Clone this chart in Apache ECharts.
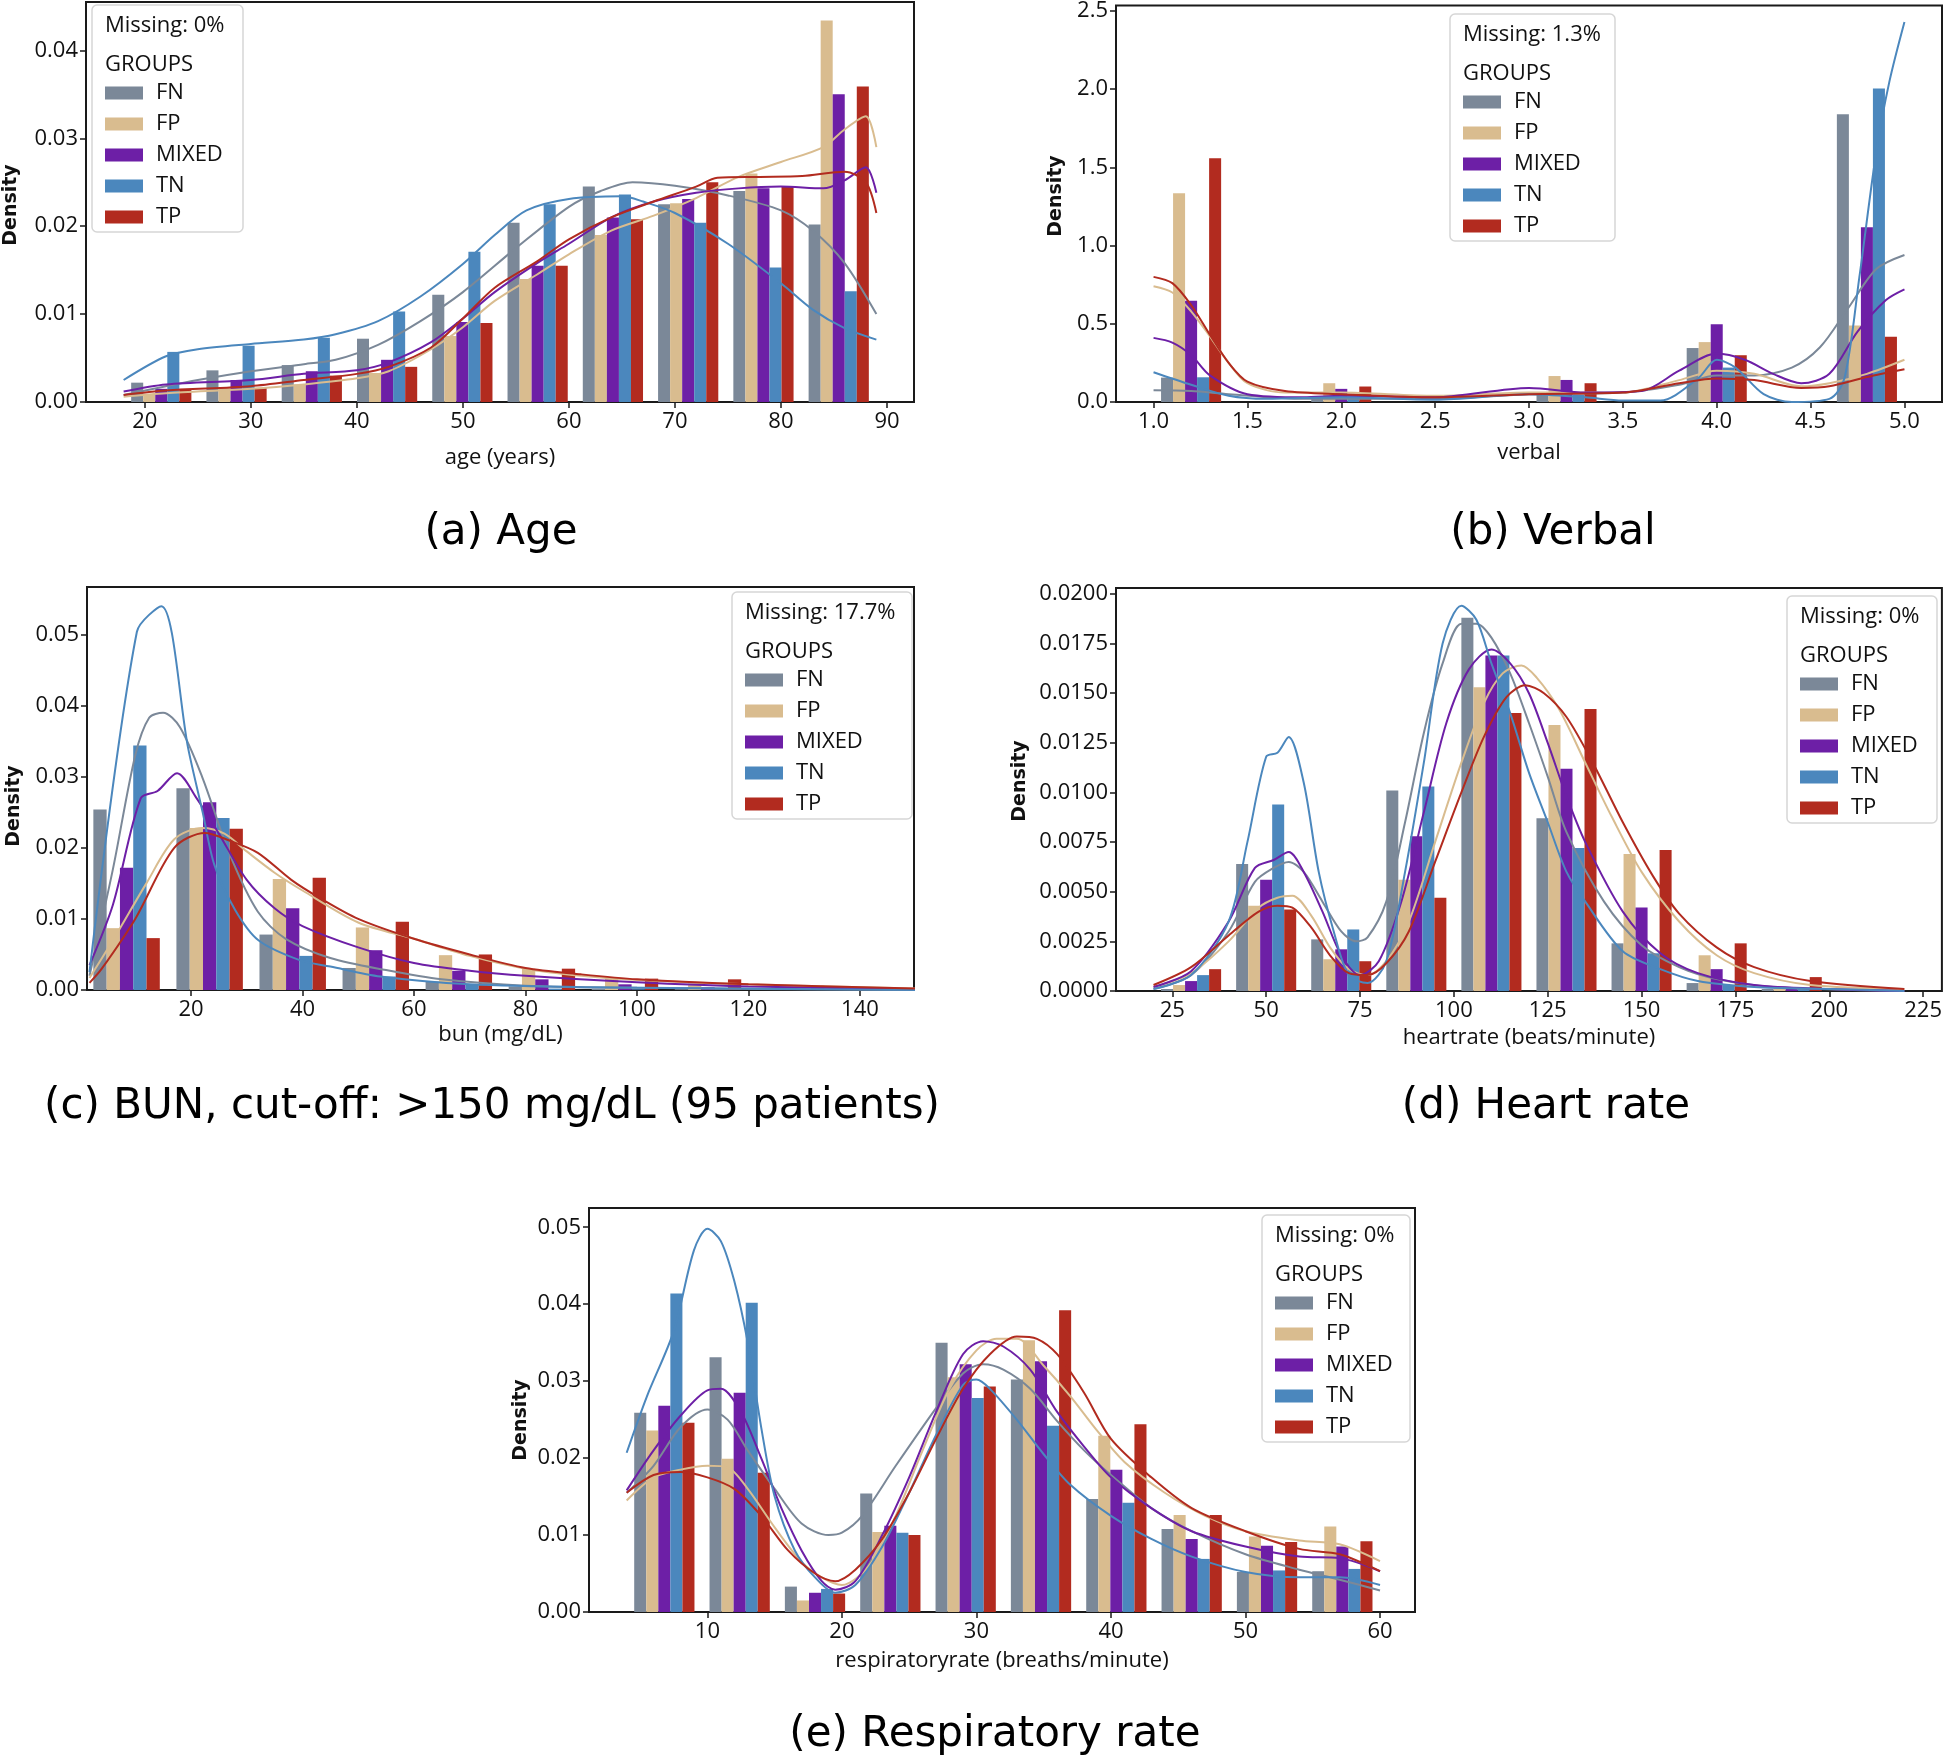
<!DOCTYPE html>
<html>
<head>
<meta charset="utf-8">
<script src="https://cdn.jsdelivr.net/npm/echarts@6/dist/echarts.min.js"></script>
<style>
body { margin: 0; background: #fff; }
#fig { width: 1945px; height: 1759px; }
</style>
</head>
<body>
<div id="fig"></div>
<script>
// ------------------------------------ data ------------------------------------
var groups = ['FN', 'FP', 'MIXED', 'TN', 'TP'];
var colors = ['#7b8898', '#d9bc8f', '#6d1fa6', '#4b87bd', '#b22b1f'];

// (a) age
var ageEdges = [18, 25.1, 32.2, 39.3, 46.4, 53.5, 60.6, 67.7, 74.8, 81.9, 89];
var ageFN = [0.0022, 0.0036, 0.0042, 0.0072, 0.0122, 0.0204, 0.0245, 0.0225, 0.0240, 0.0202];
var ageFP = [0.0009, 0.0017, 0.0020, 0.0033, 0.0075, 0.0140, 0.0190, 0.0226, 0.0260, 0.0434];
var ageMIXED = [0.0015, 0.0025, 0.0035, 0.0048, 0.0091, 0.0155, 0.0210, 0.0231, 0.0243, 0.0350];
var ageTN = [0.0057, 0.0064, 0.0073, 0.0103, 0.0171, 0.0225, 0.0236, 0.0204, 0.0153, 0.0126];
var ageTP = [0.0015, 0.0016, 0.0030, 0.0040, 0.0090, 0.0155, 0.0208, 0.0250, 0.0245, 0.0359];
var ageKdeFN = [[18, 0.0008], [22, 0.0018], [25, 0.0025], [30, 0.0035], [35, 0.0043], [38, 0.0048], [42, 0.0065], [46, 0.0092], [50, 0.0125], [55, 0.0175], [60, 0.0222], [63, 0.0240], [66, 0.0250], [70, 0.0246], [75, 0.0235], [80, 0.0218], [83, 0.0195], [86, 0.0158], [89, 0.0100]];
var ageKdeFP = [[18, 0.0006], [22, 0.0010], [30, 0.0015], [35, 0.0020], [40, 0.0027], [43, 0.0035], [47, 0.0060], [50, 0.0085], [53, 0.0115], [57, 0.0145], [60, 0.0168], [64, 0.0195], [68, 0.0212], [72, 0.0232], [76, 0.0256], [80, 0.0273], [84, 0.0290], [86, 0.0310], [88, 0.0325], [89, 0.0290]];
var ageKdeMIXED = [[18, 0.0012], [22, 0.0020], [30, 0.0025], [35, 0.0032], [40, 0.0036], [43, 0.0045], [47, 0.0068], [50, 0.0095], [53, 0.0125], [57, 0.0158], [60, 0.0180], [64, 0.0210], [68, 0.0228], [72, 0.0238], [76, 0.0243], [80, 0.0245], [84, 0.0243], [86, 0.0252], [88, 0.0267], [89, 0.0238]];
var ageKdeTN = [[18, 0.0025], [22, 0.0052], [25, 0.0060], [30, 0.0066], [35, 0.0071], [38, 0.0077], [42, 0.0092], [46, 0.0120], [50, 0.0157], [53, 0.0190], [56, 0.0218], [60, 0.0231], [65, 0.0234], [67, 0.0228], [70, 0.0215], [75, 0.0180], [80, 0.0135], [83, 0.0105], [86, 0.0084], [89, 0.0071]];
var ageKdeTP = [[18, 0.0008], [22, 0.0013], [30, 0.0018], [35, 0.0025], [40, 0.0032], [43, 0.0040], [47, 0.0062], [50, 0.0095], [53, 0.0130], [57, 0.0160], [60, 0.0185], [64, 0.0210], [68, 0.0228], [72, 0.0245], [74, 0.0255], [78, 0.0256], [82, 0.0257], [86, 0.0262], [88, 0.0250], [89, 0.0215]];

// (b) verbal
var verbalEdges = [1.0, 1.4, 1.8, 2.2, 2.6, 3.0, 3.4, 3.8, 4.2, 4.6, 5.0];
var verbalFN = [0.156, 0, 0.025, 0, 0, 0.055, 0, 0.345, 0, 1.840];
var verbalFP = [1.335, 0, 0.120, 0, 0, 0.166, 0, 0.383, 0, 0.489];
var verbalMIXED = [0.647, 0, 0.084, 0, 0, 0.141, 0, 0.497, 0, 1.118];
var verbalTN = [0.158, 0, 0.035, 0, 0, 0.045, 0, 0.220, 0, 2.005];
var verbalTP = [1.558, 0, 0.099, 0, 0, 0.120, 0, 0.299, 0, 0.417];
var verbalKdeFN = [[1.0, 0.075], [1.2, 0.07], [1.4, 0.05], [1.8, 0.02], [2.5, 0.02], [3.0, 0.05], [3.5, 0.06], [3.8, 0.11], [4.0, 0.17], [4.2, 0.17], [4.4, 0.22], [4.55, 0.35], [4.7, 0.6], [4.85, 0.85], [5.0, 0.94]];
var verbalKdeFP = [[1.0, 0.74], [1.1, 0.70], [1.2, 0.58], [1.3, 0.42], [1.4, 0.25], [1.5, 0.12], [1.7, 0.06], [2.0, 0.06], [2.5, 0.04], [3.0, 0.06], [3.5, 0.06], [3.8, 0.14], [4.0, 0.20], [4.2, 0.18], [4.45, 0.10], [4.6, 0.12], [4.8, 0.18], [5.0, 0.27]];
var verbalKdeMIXED = [[1.0, 0.41], [1.1, 0.38], [1.2, 0.30], [1.3, 0.17], [1.5, 0.05], [1.8, 0.03], [2.0, 0.04], [2.5, 0.03], [3.0, 0.09], [3.3, 0.06], [3.6, 0.07], [3.8, 0.20], [4.0, 0.31], [4.15, 0.27], [4.3, 0.18], [4.45, 0.12], [4.6, 0.18], [4.75, 0.45], [4.9, 0.65], [5.0, 0.72]];
var verbalKdeTN = [[1.0, 0.19], [1.2, 0.11], [1.4, 0.04], [1.6, 0.02], [2.0, 0.03], [2.5, 0.015], [3.0, 0.05], [3.3, 0.03], [3.5, 0.01], [3.7, 0.01], [3.9, 0.15], [4.0, 0.27], [4.1, 0.22], [4.25, 0.05], [4.4, 0.0], [4.6, 0.02], [4.68, 0.15], [4.76, 0.8], [4.85, 1.6], [4.92, 2.05], [5.0, 2.43]];
var verbalKdeTP = [[1.0, 0.80], [1.1, 0.76], [1.2, 0.62], [1.3, 0.43], [1.4, 0.25], [1.5, 0.13], [1.7, 0.07], [2.0, 0.05], [2.5, 0.03], [3.0, 0.05], [3.5, 0.06], [3.8, 0.12], [4.0, 0.15], [4.2, 0.14], [4.45, 0.09], [4.6, 0.10], [4.8, 0.16], [5.0, 0.21]];

// (c) bun
var bunEdges = [1, 15.9, 30.8, 45.7, 60.6, 75.5, 90.4, 105.3, 120.2, 135.1, 150];
var bunFN = [0.0254, 0.0284, 0.0078, 0.0031, 0.0012, 0.0005, 0.0002, 0.0001, 0.0001, 0.0000];
var bunFP = [0.0087, 0.0228, 0.0156, 0.0088, 0.0049, 0.0030, 0.0016, 0.0009, 0.0004, 0.0003];
var bunMIXED = [0.0172, 0.0264, 0.0115, 0.0056, 0.0027, 0.0015, 0.0008, 0.0004, 0.0003, 0.0001];
var bunTN = [0.0344, 0.0242, 0.0048, 0.0019, 0.0007, 0.0002, 0.0001, 0.0001, 0.0000, 0.0000];
var bunTP = [0.0073, 0.0227, 0.0158, 0.0096, 0.0050, 0.0030, 0.0016, 0.0015, 0.0006, 0.0003];
var bunKdeFN = [[1.8, 0.002], [6, 0.017], [10, 0.033], [12.5, 0.0383], [15, 0.039], [18, 0.037], [22, 0.030], [27, 0.019], [32, 0.011], [37, 0.0072], [45, 0.0045], [55, 0.0028], [65, 0.0015], [80, 0.0006], [100, 0.0003], [150, 0.0]];
var bunKdeFP = [[1.8, 0.0017], [6, 0.007], [12, 0.015], [17, 0.0212], [22, 0.0228], [26, 0.022], [30, 0.0195], [35, 0.0165], [40, 0.014], [50, 0.0095], [60, 0.0072], [70, 0.0048], [80, 0.003], [90, 0.002], [100, 0.0014], [120, 0.0008], [150, 0.0002]];
var bunKdeMIXED = [[1.8, 0.0035], [6, 0.012], [11, 0.027], [14, 0.028], [17.5, 0.0305], [21, 0.027], [25, 0.022], [30, 0.0155], [35, 0.0115], [40, 0.009], [50, 0.006], [60, 0.0038], [70, 0.0027], [80, 0.002], [100, 0.0011], [120, 0.0005], [150, 0.0001]];
var bunKdeTN = [[1.8, 0.0025], [10.3, 0.0504], [14.7, 0.054], [19.5, 0.034], [22.1, 0.025], [24.2, 0.0176], [27.9, 0.0113], [32.1, 0.0070], [39.5, 0.0042], [45, 0.0033], [54, 0.0019], [70, 0.0008], [91, 0.0004], [150, 0]];
var bunKdeTP = [[1.8, 0.001], [4, 0.003], [10, 0.01], [17, 0.02], [22.5, 0.0221], [27, 0.021], [32, 0.0193], [38, 0.0155], [43, 0.013], [50, 0.01], [60, 0.0072], [70, 0.005], [80, 0.0031], [90, 0.0022], [100, 0.0015], [120, 0.0008], [150, 0.0002]];

// (d) heart rate
var hrEdges = [20, 40, 60, 80, 100, 120, 140, 160, 180, 200, 220];
var hrFN = [0.0001, 0.0064, 0.0026, 0.0101, 0.0188, 0.0087, 0.0024, 0.0004, 0.0001, 0.0000];
var hrFP = [0.0003, 0.0043, 0.0016, 0.0056, 0.0153, 0.0134, 0.0069, 0.0018, 0.0002, 0.0001];
var hrMIXED = [0.0005, 0.0056, 0.0021, 0.0078, 0.0169, 0.0112, 0.0042, 0.0011, 0.0001, 0.0000];
var hrTN = [0.0008, 0.0094, 0.0031, 0.0103, 0.0169, 0.0072, 0.0019, 0.0003, 0.0001, 0.0001];
var hrTP = [0.0011, 0.0041, 0.0015, 0.0047, 0.0140, 0.0142, 0.0071, 0.0024, 0.0007, 0.0001];
var hrKdeFN = [[20, 0.0001], [30, 0.0008], [40, 0.003], [47, 0.0055], [52, 0.0062], [56, 0.0065], [60, 0.006], [65, 0.0045], [70, 0.003], [74, 0.0025], [77, 0.0027], [82, 0.0045], [87, 0.0085], [92, 0.013], [97, 0.0165], [102, 0.0185], [106, 0.0185], [110, 0.0178], [115, 0.016], [120, 0.0135], [125, 0.0108], [130, 0.008], [140, 0.0045], [150, 0.0023], [160, 0.0012], [170, 0.0006], [185, 0.0002], [220, 0]];
var hrKdeFP = [[20, 0.0002], [30, 0.0009], [40, 0.0025], [48, 0.0042], [53, 0.0047], [57, 0.0048], [62, 0.0038], [67, 0.0022], [72, 0.0011], [77, 0.0008], [82, 0.0015], [88, 0.0035], [95, 0.0075], [102, 0.0115], [108, 0.0145], [113, 0.016], [118, 0.0164], [122, 0.0158], [128, 0.0142], [135, 0.0115], [142, 0.0088], [150, 0.006], [160, 0.0035], [170, 0.0018], [180, 0.0009], [195, 0.0003], [220, 0.0001]];
var hrKdeMIXED = [[20, 0.0002], [30, 0.001], [40, 0.0035], [47, 0.0062], [52, 0.0066], [56, 0.007], [60, 0.006], [65, 0.004], [70, 0.0018], [75, 0.0008], [80, 0.0015], [86, 0.0045], [92, 0.009], [98, 0.0135], [104, 0.0162], [110, 0.0172], [115, 0.0165], [120, 0.015], [125, 0.0125], [130, 0.0098], [135, 0.0075], [145, 0.004], [155, 0.0019], [165, 0.0009], [180, 0.0003], [200, 0.0001], [220, 0]];
var hrKdeTN = [[20, 0.0001], [30, 0.0008], [40, 0.0035], [45, 0.0075], [50, 0.0118], [53, 0.012], [56, 0.0128], [60, 0.0105], [64, 0.006], [68, 0.003], [72, 0.0008], [77, 0.0004], [82, 0.0015], [87, 0.006], [92, 0.0115], [97, 0.0175], [102, 0.0194], [106, 0.0187], [110, 0.0165], [115, 0.014], [120, 0.011], [125, 0.0085], [130, 0.006], [135, 0.0045], [145, 0.002], [155, 0.0011], [165, 0.0005], [180, 0.0002], [200, 0.0001], [220, 0]];
var hrKdeTP = [[20, 0.0003], [30, 0.0012], [40, 0.0028], [48, 0.004], [53, 0.0043], [57, 0.0042], [62, 0.0032], [67, 0.0018], [72, 0.0009], [77, 0.0008], [82, 0.0014], [88, 0.003], [95, 0.0065], [102, 0.01], [108, 0.0128], [114, 0.0148], [119, 0.0154], [124, 0.015], [130, 0.0138], [137, 0.0115], [145, 0.0085], [153, 0.0058], [160, 0.0039], [170, 0.0022], [180, 0.0012], [195, 0.0005], [220, 0.0001]];

// (e) respiratory rate
var rrEdges = [4, 9.6, 15.2, 20.8, 26.4, 32, 37.6, 43.2, 48.8, 54.4, 60];
var rrFN = [0.0259, 0.0331, 0.0033, 0.0154, 0.0350, 0.0302, 0.0147, 0.0108, 0.0052, 0.0053];
var rrFP = [0.0236, 0.0199, 0.0015, 0.0104, 0.0305, 0.0353, 0.0229, 0.0126, 0.0098, 0.0111];
var rrMIXED = [0.0268, 0.0285, 0.0025, 0.0112, 0.0322, 0.0326, 0.0185, 0.0095, 0.0086, 0.0085];
var rrTN = [0.0414, 0.0402, 0.0030, 0.0103, 0.0278, 0.0242, 0.0142, 0.0069, 0.0054, 0.0056];
var rrTP = [0.0246, 0.0181, 0.0024, 0.0100, 0.0293, 0.0392, 0.0244, 0.0126, 0.0091, 0.0092];
var rrKdeFN = [[4, 0.0155], [6, 0.019], [8, 0.024], [10, 0.0263], [11.5, 0.025], [13, 0.021], [15, 0.016], [17, 0.0115], [19, 0.01], [20, 0.0103], [21.5, 0.0125], [24, 0.019], [27, 0.0265], [29, 0.031], [30.5, 0.0322], [32, 0.0315], [34, 0.029], [36, 0.0248], [38, 0.021], [40, 0.0178], [43, 0.0135], [46, 0.0105], [50, 0.0075], [54, 0.0055], [57, 0.0042], [60, 0.0028]];
var rrKdeFP = [[4, 0.0145], [6, 0.0175], [8, 0.0185], [10, 0.019], [11.5, 0.0188], [13, 0.016], [15, 0.011], [17, 0.0065], [18.5, 0.0045], [20, 0.0035], [22, 0.006], [24, 0.0125], [26, 0.021], [28, 0.029], [30, 0.034], [31.5, 0.0355], [33, 0.0355], [35, 0.032], [37, 0.028], [39, 0.0235], [41, 0.0195], [44, 0.0155], [47, 0.0125], [50, 0.0105], [54, 0.0093], [57, 0.0088], [60, 0.0066]];
var rrKdeMIXED = [[4, 0.0158], [6, 0.021], [8, 0.0255], [10, 0.0288], [11, 0.029], [12.5, 0.026], [14, 0.02], [15.5, 0.0135], [17, 0.008], [18.5, 0.004], [19.5, 0.0029], [21, 0.004], [23, 0.01], [25, 0.0175], [27, 0.026], [29, 0.0335], [30.5, 0.0352], [32, 0.0345], [34, 0.0315], [36, 0.026], [38, 0.0215], [40, 0.0175], [43, 0.0135], [46, 0.0105], [50, 0.0085], [54, 0.0072], [57, 0.007], [60, 0.0053]];
var rrKdeTN = [[4, 0.0207], [5.5, 0.028], [7.5, 0.0365], [9, 0.047], [10, 0.0498], [11, 0.0482], [12, 0.043], [13, 0.035], [14, 0.024], [15, 0.015], [16.5, 0.008], [18, 0.0045], [19.5, 0.0025], [21, 0.0035], [23, 0.0085], [25, 0.0155], [27, 0.023], [29, 0.0295], [30, 0.0302], [31, 0.029], [33, 0.025], [35, 0.0205], [37, 0.0165], [40, 0.0125], [43, 0.0095], [46, 0.0072], [50, 0.0052], [54, 0.0045], [57, 0.0045], [60, 0.0035]];
var rrKdeTP = [[4, 0.0155], [6, 0.0178], [8, 0.0182], [10, 0.0175], [12, 0.016], [14, 0.0125], [16, 0.008], [18, 0.005], [19.5, 0.004], [21, 0.0055], [23, 0.0095], [25, 0.0155], [27, 0.0225], [29, 0.029], [31, 0.0335], [33, 0.0358], [34.5, 0.0355], [36, 0.0335], [38, 0.0285], [40, 0.0225], [43, 0.0175], [46, 0.0135], [50, 0.0105], [54, 0.0082], [57, 0.0075], [60, 0.0053]];

// tick values
var ageXTicks = [20, 30, 40, 50, 60, 70, 80, 90];
var ageYTicks = [0, 0.01, 0.02, 0.03, 0.04];
var verbalXTicks = [1.0, 1.5, 2.0, 2.5, 3.0, 3.5, 4.0, 4.5, 5.0];
var verbalYTicks = [0, 0.5, 1.0, 1.5, 2.0, 2.5];
var bunXTicks = [20, 40, 60, 80, 100, 120, 140];
var bunYTicks = [0, 0.01, 0.02, 0.03, 0.04, 0.05];
var hrXTicks = [25, 50, 75, 100, 125, 150, 175, 200, 225];
var hrYTicks = [0, 0.0025, 0.005, 0.0075, 0.01, 0.0125, 0.015, 0.0175, 0.02];
var rrXTicks = [10, 20, 30, 40, 50, 60];
var rrYTicks = [0, 0.01, 0.02, 0.03, 0.04, 0.05];

// ------------------------------------ layout ------------------------------------
var tickFont = "'Open Sans', 'Noto Sans', sans-serif";
var capFont = "'DejaVu Sans', sans-serif";

var panels = [
    { grid: { left: 86, top: 2, width: 828, height: 400 }, xMin: 14.45, xMax: 92.55, yMax: 0.0455,
      xTicks: ageXTicks, yTicks: ageYTicks, xDec: 0, yDec: 2, xName: 'age (years)', nameGap: 45,
      edges: ageEdges, hist: [ageFN, ageFP, ageMIXED, ageTN, ageTP],
      kde: [ageKdeFN, ageKdeFP, ageKdeMIXED, ageKdeTN, ageKdeTP],
      box: [92, 5, 151], missing: 'Missing: 0%', density: [11, 205], caption: ['(a) Age', 501, 533] },
    { grid: { left: 1116, top: 2, width: 826, height: 400 }, xMin: 0.8, xMax: 5.2, yMax: 2.535,
      xTicks: verbalXTicks, yTicks: verbalYTicks, xDec: 1, yDec: 1, xName: 'verbal', nameGap: 40,
      edges: verbalEdges, hist: [verbalFN, verbalFP, verbalMIXED, verbalTN, verbalTP],
      kde: [verbalKdeFN, verbalKdeFP, verbalKdeMIXED, verbalKdeTN, verbalKdeTP],
      box: [1450, 14, 165], missing: 'Missing: 1.3%', density: [1056, 196], caption: ['(b) Verbal', 1553, 533] },
    { grid: { left: 87, top: 587, width: 827, height: 403 }, xMin: 1.35, xMax: 149.7, yMax: 0.0567,
      xTicks: bunXTicks, yTicks: bunYTicks, xDec: 0, yDec: 2, xName: 'bun (mg/dL)', nameGap: 34,
      edges: bunEdges, hist: [bunFN, bunFP, bunMIXED, bunTN, bunTP],
      kde: [bunKdeFN, bunKdeFP, bunKdeMIXED, bunKdeTN, bunKdeTP],
      box: [732, 592, 180], missing: 'Missing: 17.7%', density: [14, 806], caption: ['(c) BUN, cut-off: >150 mg/dL (95 patients)', 492, 1107] },
    { grid: { left: 1116, top: 588, width: 827, height: 403 }, xMin: 10, xMax: 230, yMax: 0.0203,
      xTicks: hrXTicks, yTicks: hrYTicks, xDec: 0, yDec: 4, xName: 'heartrate (beats/minute)', nameGap: 36,
      edges: hrEdges, hist: [hrFN, hrFP, hrMIXED, hrTN, hrTP],
      kde: [hrKdeFN, hrKdeFP, hrKdeMIXED, hrKdeTN, hrKdeTP],
      box: [1787, 596, 150], missing: 'Missing: 0%', density: [1020, 781], caption: ['(d) Heart rate', 1546, 1107] },
    { grid: { left: 589, top: 1208, width: 826, height: 404 }, xMin: 1.2, xMax: 62.6, yMax: 0.0525,
      xTicks: rrXTicks, yTicks: rrYTicks, xDec: 0, yDec: 2, xName: 'respiratoryrate (breaths/minute)', nameGap: 38,
      edges: rrEdges, hist: [rrFN, rrFP, rrMIXED, rrTN, rrTP],
      kde: [rrKdeFN, rrKdeFP, rrKdeMIXED, rrKdeTN, rrKdeTP],
      box: [1262, 1215, 148], missing: 'Missing: 0%', density: [521, 1420], caption: ['(e) Respiratory rate', 995, 1735] }
];

function barSeries(p, g, edges, vals) {
    var data = vals.map(function (v, i) { return [edges[i], edges[i + 1], v]; });
    return {
        type: 'custom',
        name: groups[g],
        xAxisIndex: p,
        yAxisIndex: p,
        itemStyle: { color: colors[g] },
        encode: { x: [0, 1], y: 2 },
        data: data,
        z: 2,
        silent: true,
        renderItem: function (params, api) {
            // seaborn dodge: 5 bars share 80% of the bin
            var l = api.value(0), r = api.value(1), w = r - l;
            var x0 = l + 0.1 * w + g * 0.16 * w;
            var a = api.coord([x0, api.value(2)]);
            var b = api.coord([x0 + 0.16 * w, 0]);
            return {
                type: 'rect',
                shape: { x: a[0], y: a[1], width: b[0] - a[0], height: b[1] - a[1] },
                style: { fill: colors[g] }
            };
        }
    };
}

function kdeSeries(p, g, pts) {
    return {
        type: 'line',
        name: groups[g],
        xAxisIndex: p,
        yAxisIndex: p,
        data: pts,
        showSymbol: false,
        smooth: 0.3,
        silent: true,
        z: 3,
        lineStyle: { color: colors[g], width: 2 },
        itemStyle: { color: colors[g] }
    };
}

var grids = [], xAxes = [], yAxes = [], series = [], legends = [], graphics = [];

panels.forEach(function (pn, p) {
    grids.push({
        left: pn.grid.left, top: pn.grid.top, width: pn.grid.width, height: pn.grid.height,
        show: true, borderColor: '#1a1a1a', borderWidth: 2, backgroundColor: 'transparent'
    });
    xAxes.push({
        gridIndex: p, type: 'value', min: pn.xMin, max: pn.xMax,
        name: pn.xName, nameLocation: 'middle', nameGap: pn.nameGap,
        nameTextStyle: { fontFamily: tickFont, fontSize: 22, color: '#111' },
        axisLine: { show: false }, splitLine: { show: false },
        axisTick: { show: true, length: 6, lineStyle: { color: '#1a1a1a', width: 1.5 }, customValues: pn.xTicks },
        axisLabel: {
            customValues: pn.xTicks, margin: 9, fontFamily: tickFont, fontSize: 22, color: '#111',
            formatter: (function (d) { return function (v) { return v.toFixed(d); }; })(pn.xDec)
        }
    });
    yAxes.push({
        gridIndex: p, type: 'value', min: 0, max: pn.yMax,
        axisLine: { show: false }, splitLine: { show: false },
        axisTick: { show: true, length: 6, lineStyle: { color: '#1a1a1a', width: 1.5 }, customValues: pn.yTicks },
        axisLabel: {
            customValues: pn.yTicks, margin: 8, fontFamily: tickFont, fontSize: 22, color: '#111',
            formatter: (function (d) { return function (v) { return v.toFixed(d); }; })(pn.yDec)
        }
    });
    for (var g = 0; g < 5; g++) {
        series.push(barSeries(p, g, pn.edges, pn.hist[g]));
    }
    for (var k = 0; k < 5; k++) {
        series.push(kdeSeries(p, k, pn.kde[k]));
    }

    // legend box
    var bx = pn.box[0], by = pn.box[1], bw = pn.box[2];
    graphics.push({
        type: 'rect', z: 20,
        shape: { x: bx, y: by, width: bw, height: 227, r: 5 },
        style: { fill: 'rgba(255,255,255,0.85)', stroke: '#d6d6d6', lineWidth: 1.5 }
    });
    graphics.push({
        type: 'text', z: 21, x: bx + 13, y: by + 21,
        style: { text: pn.missing, fontFamily: tickFont, fontSize: 22, fill: '#111', align: 'left', verticalAlign: 'middle' }
    });
    graphics.push({
        type: 'text', z: 21, x: bx + 13, y: by + 60,
        style: { text: 'GROUPS', fontFamily: tickFont, fontSize: 22, fill: '#111', align: 'left', verticalAlign: 'middle' }
    });
    legends.push({
        data: groups.slice(), orient: 'vertical', left: bx + 13, top: by + 77,
        itemWidth: 38, itemHeight: 13, itemGap: 9, padding: 0, icon: 'rect',
        selectedMode: false, z: 22,
        textStyle: { fontFamily: tickFont, fontSize: 22, lineHeight: 22, color: '#111', padding: [0, 0, 0, 8] }
    });

    // y label and caption
    graphics.push({
        type: 'text', z: 21, x: pn.density[0], y: pn.density[1], rotation: Math.PI / 2,
        style: { text: 'Density', fontFamily: capFont, fontSize: 19, fontWeight: 'bold', fill: '#111', align: 'center', verticalAlign: 'middle' }
    });
    graphics.push({
        type: 'text', z: 21, x: pn.caption[1], y: pn.caption[2],
        style: { text: pn.caption[0], fontFamily: capFont, fontSize: 42, fill: '#000', align: 'center', verticalAlign: 'middle' }
    });
});

var chart = echarts.init(document.getElementById('fig'), null, { renderer: 'canvas' });
var option = {
    animation: false,
    backgroundColor: '#fff',
    grid: grids,
    xAxis: xAxes,
    yAxis: yAxes,
    legend: legends,
    graphic: graphics,
    series: series
};
chart.setOption(option);
</script>
</body>
</html>
